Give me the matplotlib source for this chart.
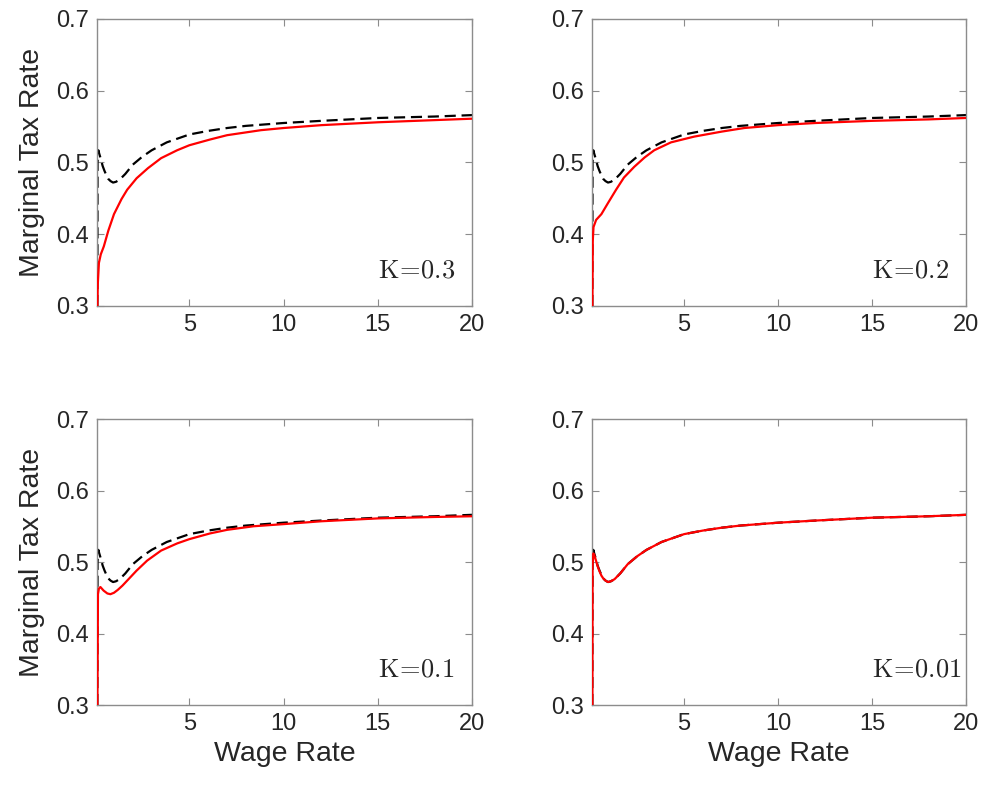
"""Marginal tax rate schedules for several values of K (2x2 panels)."""

import matplotlib
matplotlib.use("Agg")
import matplotlib.pyplot as plt

plt.rcParams.update({
    "font.family": "Liberation Sans",
    "mathtext.fontset": "cm",
    "figure.facecolor": "white",
    "axes.facecolor": "white",
})

AXIS_GRAY = "#8c8c8c"
TEXT_DARK = "#262626"

# ---------------------------------------------------------------------------
# Data
# ---------------------------------------------------------------------------
# benchmark schedule (black dashed, same in every panel)
wage_bench = [0.12, 0.13, 0.17, 0.22, 0.30, 0.40, 0.50, 0.60, 0.70, 0.82, 0.95, 1.10,
              1.30, 1.60, 2.00, 2.50, 3.00, 3.80, 5.00, 6.00, 7.00, 8.00, 10.0,
              12.0, 15.0, 18.0, 20.0]
mtr_bench = [0.300, 0.500, 0.517, 0.512, 0.505, 0.495, 0.488, 0.482, 0.477, 0.474, 0.472, 0.473,
             0.476, 0.484, 0.497, 0.508, 0.517, 0.528, 0.539, 0.544, 0.548, 0.551, 0.555,
             0.558, 0.562, 0.564, 0.566]

# K = 0.3
wage_k03 = [0.12, 0.14, 0.20, 0.30, 0.46, 0.70, 1.00, 1.40, 1.70, 2.20, 2.80, 3.50,
            4.35, 5.00, 6.10, 7.00, 8.80, 10.0, 12.0, 15.0, 18.0, 20.0]
mtr_k03 = [0.300, 0.330, 0.360, 0.372, 0.383, 0.405, 0.428, 0.449, 0.462, 0.478, 0.492, 0.506,
           0.517, 0.524, 0.532, 0.538, 0.545, 0.548, 0.552, 0.556, 0.559, 0.561]

# K = 0.2
wage_k02 = [0.12, 0.14, 0.18, 0.32, 0.60, 0.94, 1.38, 1.80, 2.35, 2.90, 3.41, 4.30,
            5.53, 7.00, 8.20, 10.0, 12.0, 15.0, 18.0, 20.0]
mtr_k02 = [0.300, 0.390, 0.410, 0.420, 0.428, 0.443, 0.462, 0.479, 0.494, 0.507, 0.517, 0.528,
           0.536, 0.543, 0.548, 0.552, 0.555, 0.558, 0.560, 0.562]

# K = 0.1
wage_k01 = [0.12, 0.15, 0.20, 0.28, 0.45, 0.65, 0.81, 1.00, 1.20, 1.45, 1.70, 2.20, 2.76,
            3.50, 4.35, 5.00, 6.10, 7.00, 8.40, 10.0, 12.0, 15.0, 18.0, 20.0]
mtr_k01 = [0.300, 0.455, 0.463, 0.465, 0.460, 0.456, 0.455, 0.457, 0.461, 0.467, 0.474, 0.488, 0.502,
           0.516, 0.526, 0.532, 0.540, 0.545, 0.550, 0.553, 0.557, 0.561, 0.563, 0.564]

# K = 0.01
wage_k001 = [0.12, 0.13, 0.17, 0.22, 0.30, 0.40, 0.50, 0.60, 0.70, 0.82, 0.95, 1.10,
             1.30, 1.60, 2.00, 2.50, 3.00, 3.80, 5.00, 6.00, 7.00, 8.00, 10.0,
             12.0, 15.0, 18.0, 20.0]
mtr_k001 = [0.300, 0.495, 0.512, 0.510, 0.503, 0.494, 0.487, 0.481, 0.477, 0.474, 0.472, 0.473,
            0.476, 0.484, 0.497, 0.508, 0.517, 0.528, 0.539, 0.544, 0.548, 0.551, 0.555,
            0.558, 0.562, 0.564, 0.566]

panel_labels = [r"$\mathrm{K}\!=\!0.3$", r"$\mathrm{K}\!=\!0.2$",
                r"$\mathrm{K}\!=\!0.1$", r"$\mathrm{K}\!=\!0.01$"]
panel_wages = [wage_k03, wage_k02, wage_k01, wage_k001]
panel_mtrs = [mtr_k03, mtr_k02, mtr_k01, mtr_k001]

x_ticks = [5, 10, 15, 20]
y_ticks = [0.3, 0.4, 0.5, 0.6, 0.7]

# ---------------------------------------------------------------------------
# Figure
# ---------------------------------------------------------------------------
fig = plt.figure(figsize=(9.87, 7.96), dpi=100)

positions = [
    [0.0983, 0.6156, 0.3800, 0.3606],
    [0.5998, 0.6156, 0.3790, 0.3606],
    [0.0983, 0.1143, 0.3800, 0.3593],
    [0.5998, 0.1143, 0.3790, 0.3593],
]

for idx, pos in enumerate(positions):
    ax = fig.add_axes(pos)
    ax.plot(wage_bench, mtr_bench, color="black", linewidth=1.6,
            linestyle=(0, (5, 2.6)), zorder=2)
    ax.plot(panel_wages[idx], panel_mtrs[idx], color="red", linewidth=1.6, zorder=3)

    ax.set_xlim(0.1, 20)
    ax.set_ylim(0.3, 0.7)
    ax.set_xticks(x_ticks)
    ax.set_yticks(y_ticks)
    ax.set_yticklabels([f"{v:.1f}" for v in y_ticks])
    ax.tick_params(direction="in", length=5, width=0.8, color=AXIS_GRAY,
                   labelcolor=TEXT_DARK, labelsize=17, top=True, right=True, pad=6)
    for spine in ax.spines.values():
        spine.set_color(AXIS_GRAY)
        spine.set_linewidth(1.0)

    ax.text(15, 0.34, panel_labels[idx], fontsize=19, color=TEXT_DARK,
            ha="left", va="baseline")

    if idx % 2 == 0:
        ax.set_ylabel("Marginal Tax Rate", fontsize=20.5, color=TEXT_DARK, labelpad=8)
    if idx >= 2:
        ax.set_xlabel("Wage Rate", fontsize=20.5, color=TEXT_DARK, labelpad=4)

fig.savefig("out.png", dpi=100)
